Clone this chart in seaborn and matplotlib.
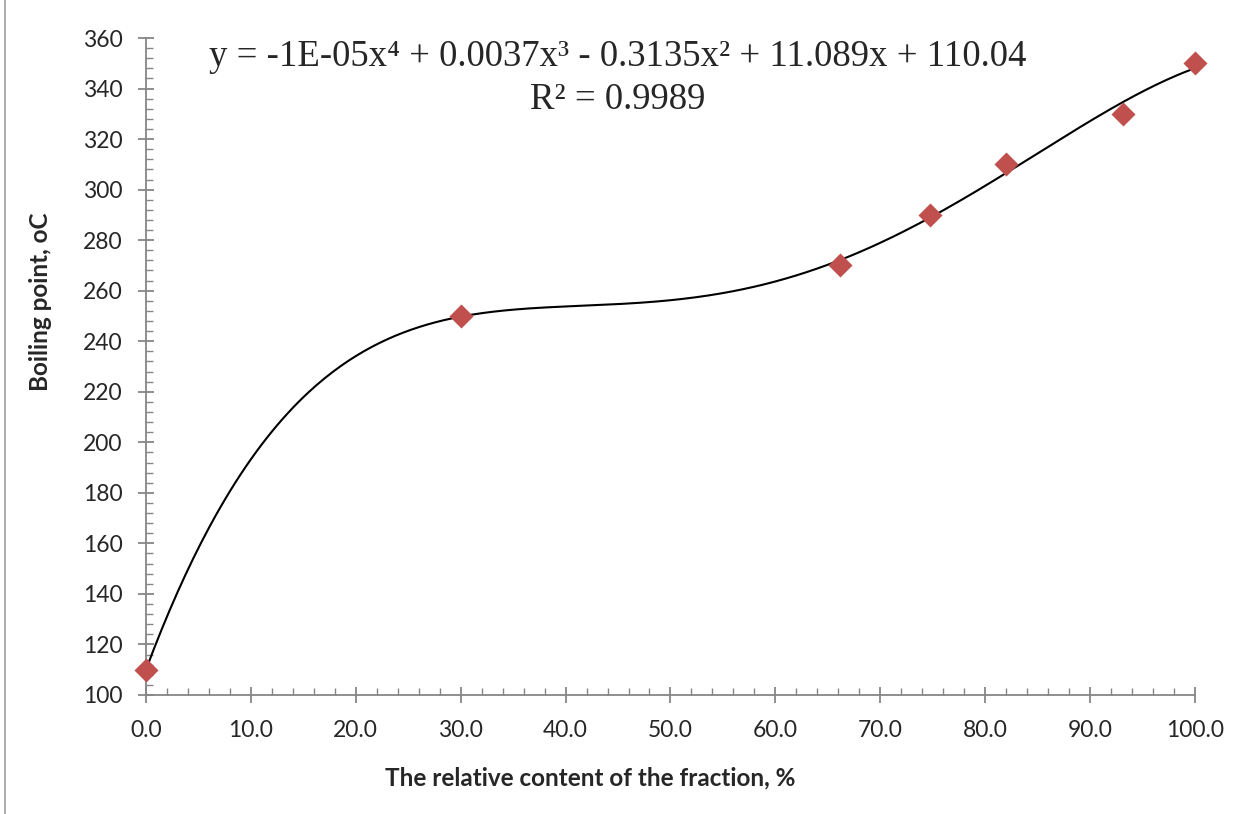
import numpy as np
import pandas as pd
import matplotlib
matplotlib.use("Agg")
import matplotlib.pyplot as plt
import seaborn as sns
from matplotlib.ticker import MultipleLocator, FormatStrFormatter
from matplotlib.lines import Line2D

# data
fraction = [0.0, 30.0, 66.2, 74.7, 82.0, 93.1, 100.0]
boiling = [110, 250, 270, 290, 310, 330, 350]
equation = "y = -1E-05x\u2074 + 0.0037x\u00b3 - 0.3135x\u00b2 + 11.089x + 110.04"
r2_text = "R\u00b2 = 0.9989"

df = pd.DataFrame({"fraction": fraction, "boiling": boiling})

sns.set_style("white")
plt.rcParams['font.family'] = ['Lato', 'DejaVu Sans']

fig = plt.figure(figsize=(12.51, 8.14), dpi=100)
ax = fig.add_axes([0.1167, 0.1462, 0.8385, 0.8071])

# 4th order polynomial trendline (as Excel does)
coef = np.polyfit(df["fraction"], df["boiling"], 4)
xs = np.linspace(0, 100, 400)
trend = pd.DataFrame({"x": xs, "y": np.polyval(coef, xs)})
sns.lineplot(data=trend, x="x", y="y", color="black", linewidth=1.5, ax=ax, zorder=2)

sns.scatterplot(data=df, x="fraction", y="boiling", marker="D", s=150,
                color="#C0504D", edgecolor="#C0504D", linewidth=0, ax=ax, zorder=3,
                clip_on=False)

ax.set_xlim(0, 100)
ax.set_ylim(100, 360)
ax.xaxis.set_major_locator(MultipleLocator(10))
ax.xaxis.set_minor_locator(MultipleLocator(2))
ax.yaxis.set_major_locator(MultipleLocator(20))
ax.yaxis.set_minor_locator(MultipleLocator(4))
ax.xaxis.set_major_formatter(FormatStrFormatter("%.1f"))

gray = "#868686"
for side in ["top", "right"]:
    ax.spines[side].set_visible(False)
for side in ["left", "bottom"]:
    ax.spines[side].set_color(gray)
    ax.spines[side].set_linewidth(1.3)

ax.tick_params(which="major", direction="inout", length=12, width=1.3, color=gray,
               labelsize=16.5)
ax.tick_params(axis="x", which="major", pad=12)
ax.tick_params(axis="y", which="major", pad=11)
ax.tick_params(which="minor", direction="in", length=5, width=1.0, color=gray)
ax.tick_params(which="both", bottom=True, left=True)

ax.set_xlabel("")
ax.set_ylabel("")
fig.text(590 / 1251, 1 - 778 / 814, "The relative content of the fraction, %",
         ha="center", va="center", fontsize=17.5, fontweight="bold")
fig.text(41 / 1251, 1 - 302 / 814, "Boiling point, oC", rotation=90,
         ha="center", va="center", fontsize=17.5, fontweight="bold")

ax.text(0.45, 0.971, equation, transform=ax.transAxes, ha="center", va="center",
        fontsize=26.5, family="Liberation Serif")
ax.text(0.45, 0.906, r2_text, transform=ax.transAxes, ha="center", va="center",
        fontsize=26.5, family="Liberation Serif")

fig.add_artist(Line2D([5 / 1251, 5 / 1251], [0, 1], color="#A0A0A0", linewidth=1.2,
                      transform=fig.transFigure))

fig.savefig("out.png", dpi=100)
plt.close()
